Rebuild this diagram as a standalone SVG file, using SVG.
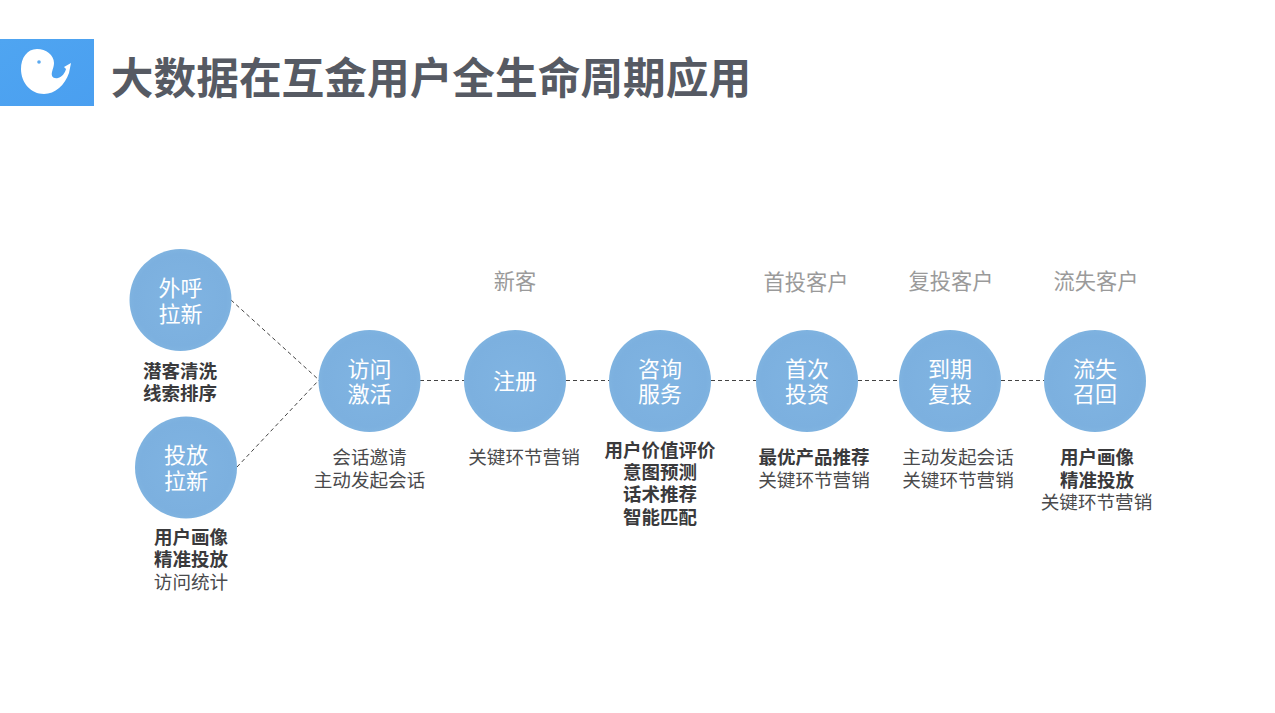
<svg xmlns="http://www.w3.org/2000/svg" width="1275" height="713" viewBox="0 0 1275 713">
<defs>
<linearGradient id="logo" x1="0" y1="0" x2="1" y2="1"><stop offset="0" stop-color="#4fa5f1"/><stop offset="1" stop-color="#4a9ff0"/></linearGradient>
<radialGradient id="ball" cx="0.5" cy="0.5" r="0.5"><stop offset="0" stop-color="#80b4e2"/><stop offset="0.9" stop-color="#7cb0df"/><stop offset="1" stop-color="#7fb3e0"/></radialGradient>
</defs>
<style>
text{font-family:"Noto Sans CJK SC","Liberation Sans",sans-serif;text-anchor:middle}
.c{fill:url(#ball)}
.n{fill:#fff;font-size:22px}
.b{fill:#3a3a3c;font-size:18.500px;font-weight:700}
.r{fill:#4a4a4c;font-size:18.600px;font-weight:400}
.h{fill:#9a9a9a;font-size:21.200px}
.l{stroke:#444;stroke-width:1;stroke-dasharray:4 3;fill:none}
</style>
<rect width="1275" height="713" fill="#fff"/>
<g id="logo-mark">
<rect x="0" y="39" width="94" height="67" fill="url(#logo)"/>
<path d="M37 49C27 49 21 58 21 69C21 83 31 94 44 94C55 94 65 85 69 73L71 63L64 67L66 69C65 73 62 77 58 78C53 79 51 76 52 72C53 68 54 66 54 63C54 55 46 49 37 49Z" fill="#fff"/>
<circle cx="39" cy="62" r="1.800" fill="#5aa9f0"/>
</g>
<text id="title" x="431" y="94" style="font-size:42.700px;font-weight:700;fill:#565a63">大数据在互金用户全生命周期应用</text>
<g id="connectors">
<path class="l" d="M231 300L319 380M237 467L319 380M420 380.500H464M566 380.500H609M711 380.500H756M858 380.500H899M1001 380.500H1044"/>
</g>
<g id="n1"><circle class="c" cx="180.500" cy="300" r="51"/><text class="n" x="180.500" y="296">外呼<tspan x="180.500" dy="26">拉新</tspan></text>
<text class="b" x="180" y="378">潜客清洗<tspan x="180" dy="22">线索排序</tspan></text></g>
<g id="n2"><circle class="c" cx="186" cy="467.500" r="51"/><text class="n" x="186" y="463">投放<tspan x="186" dy="26">拉新</tspan></text>
<text class="b" x="191" y="544">用户画像<tspan x="191" dy="22">精准投放</tspan><tspan class="r" x="191" dy="23">访问统计</tspan></text></g>
<g id="n3"><circle class="c" cx="369.500" cy="381" r="51"/><text class="n" x="369.500" y="377">访问<tspan x="369.500" dy="25">激活</tspan></text>
<text class="r" x="369.500" y="464">会话邀请<tspan x="369.500" dy="23">主动发起会话</tspan></text></g>
<g id="n4"><circle class="c" cx="515" cy="381" r="51"/><text class="n" x="515" y="389">注册</text>
<text class="h" x="515" y="289">新客</text><text class="r" x="524" y="464">关键环节营销</text></g>
<g id="n5"><circle class="c" cx="660" cy="381" r="51"/><text class="n" x="660" y="377">咨询<tspan x="660" dy="25">服务</tspan></text>
<text class="b" x="660" y="457">用户价值评价<tspan x="660" dy="22">意图预测</tspan><tspan x="660" dy="22">话术推荐</tspan><tspan x="660" dy="23">智能匹配</tspan></text></g>
<g id="n6"><circle class="c" cx="807" cy="381" r="51"/><text class="n" x="807" y="377">首次<tspan x="807" dy="25">投资</tspan></text>
<text class="h" x="806" y="290">首投客户</text><text class="b" x="814" y="464">最优产品推荐<tspan class="r" x="814" dy="23">关键环节营销</tspan></text></g>
<g id="n7"><circle class="c" cx="950" cy="381" r="51"/><text class="n" x="950" y="377">到期<tspan x="950" dy="25">复投</tspan></text>
<text class="h" x="951" y="289">复投客户</text><text class="r" x="958" y="464">主动发起会话<tspan x="958" dy="23">关键环节营销</tspan></text></g>
<g id="n8"><circle class="c" cx="1095" cy="381" r="51"/><text class="n" x="1095" y="377">流失<tspan x="1095" dy="25">召回</tspan></text>
<text class="h" x="1096" y="289">流失客户</text><text class="b" x="1097" y="464">用户画像<tspan x="1097" dy="23">精准投放</tspan><tspan class="r" x="1096.500" dy="22">关键环节营销</tspan></text></g>
</svg>
